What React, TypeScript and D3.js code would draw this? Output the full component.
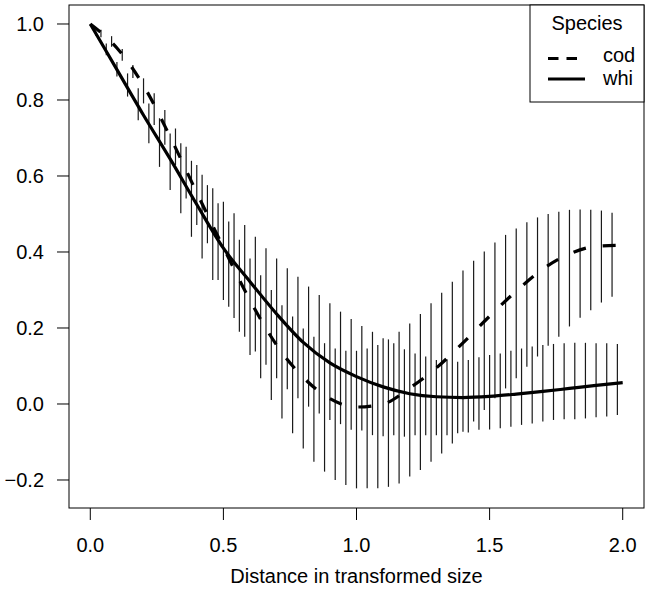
import React from "react";
import * as d3 from "d3";

const lineX = [0.0, 0.1, 0.2, 0.3, 0.4, 0.5, 0.6, 0.7, 0.8, 0.9, 1.0, 1.1, 1.2, 1.3, 1.4, 1.5, 1.6, 1.7, 1.8, 1.9, 2.0];
const codLine = [1.0, 0.937, 0.838, 0.703, 0.556, 0.412, 0.273, 0.155, 0.07, 0.014, -0.008, 0.0, 0.042, 0.095, 0.161, 0.231, 0.297, 0.355, 0.395, 0.415, 0.418];
const whiLine = [1.0, 0.88, 0.76, 0.645, 0.525, 0.41, 0.322, 0.237, 0.162, 0.108, 0.072, 0.045, 0.027, 0.019, 0.017, 0.02, 0.026, 0.033, 0.041, 0.049, 0.056];

const codBarX = [0.0, 0.04, 0.08, 0.12, 0.16, 0.2, 0.24, 0.28, 0.32, 0.36, 0.4, 0.44, 0.48, 0.52, 0.56, 0.6, 0.64, 0.68, 0.72, 0.76, 0.8, 0.84, 0.88, 0.92, 0.96, 1.0, 1.04, 1.08, 1.12, 1.16, 1.2, 1.24, 1.28, 1.32, 1.36, 1.4, 1.44, 1.48, 1.52, 1.56, 1.6, 1.64, 1.68, 1.72, 1.76, 1.8, 1.84, 1.88, 1.92, 1.96];
const codLo = [1.0, 0.965, 0.94, 0.903, 0.858, 0.791, 0.734, 0.682, 0.629, 0.541, 0.471, 0.423, 0.326, 0.256, 0.19, 0.129, 0.068, 0.0105, -0.038, -0.077, -0.117, -0.152, -0.178, -0.2, -0.213, -0.222, -0.222, -0.222, -0.218, -0.209, -0.191, -0.174, -0.152, -0.13, -0.104, -0.073, -0.046, -0.016, 0.015, 0.041, 0.068, 0.098, 0.125, 0.153, 0.177, 0.204, 0.227, 0.247, 0.267, 0.282];
const codHi = [1.0, 0.985, 0.968, 0.934, 0.892, 0.857, 0.818, 0.774, 0.725, 0.677, 0.629, 0.576, 0.528, 0.48, 0.432, 0.383, 0.339, 0.3, 0.26, 0.23, 0.199, 0.177, 0.16, 0.146, 0.14, 0.14, 0.146, 0.155, 0.17, 0.19, 0.212, 0.237, 0.265, 0.293, 0.322, 0.351, 0.377, 0.401, 0.425, 0.445, 0.462, 0.478, 0.491, 0.5, 0.506, 0.511, 0.512, 0.511, 0.509, 0.503];

const whiBarX = [0.02, 0.06, 0.1, 0.14, 0.18, 0.22, 0.26, 0.3, 0.34, 0.38, 0.42, 0.46, 0.5, 0.54, 0.58, 0.62, 0.66, 0.7, 0.74, 0.78, 0.82, 0.86, 0.9, 0.94, 0.98, 1.02, 1.06, 1.1, 1.14, 1.18, 1.22, 1.26, 1.3, 1.34, 1.38, 1.42, 1.46, 1.5, 1.54, 1.58, 1.62, 1.66, 1.7, 1.74, 1.78, 1.82, 1.86, 1.9, 1.94, 1.98];
const whiLo = [0.97, 0.918, 0.862, 0.809, 0.747, 0.686, 0.624, 0.563, 0.502, 0.44, 0.383, 0.326, 0.274, 0.226, 0.177, 0.138, 0.103, 0.068, 0.039, 0.015, -0.007, -0.025, -0.042, -0.053, -0.068, -0.07, -0.082, -0.085, -0.082, -0.086, -0.082, -0.082, -0.082, -0.082, -0.077, -0.075, -0.068, -0.067, -0.064, -0.06, -0.055, -0.051, -0.046, -0.042, -0.04, -0.04, -0.038, -0.035, -0.033, -0.029];
const whiHi = [0.982, 0.949, 0.9, 0.87, 0.831, 0.791, 0.752, 0.712, 0.686, 0.64, 0.603, 0.568, 0.532, 0.502, 0.471, 0.44, 0.41, 0.383, 0.357, 0.335, 0.309, 0.287, 0.265, 0.243, 0.224, 0.205, 0.19, 0.173, 0.16, 0.144, 0.133, 0.125, 0.116, 0.118, 0.111, 0.116, 0.123, 0.129, 0.133, 0.14, 0.146, 0.151, 0.155, 0.158, 0.16, 0.161, 0.161, 0.16, 0.16, 0.158];

const xTicks = [0.0, 0.5, 1.0, 1.5, 2.0];
const yTicks = [-0.2, 0.0, 0.2, 0.4, 0.6, 0.8, 1.0];
const xTitle = "Distance in transformed size";
const legendTitle = "Species";
const speciesNames = ["cod", "whi"];

const W = 650;
const H = 589;
const L = 69, R = 644, T = 5, B = 508;
const FONT = "'Liberation Sans', Arial, Helvetica, sans-serif";
const FS = 20;

export default function App() {
  const x = d3.scaleLinear().domain([-0.08, 2.08]).range([L, R]);
  const y = d3.scaleLinear().domain([-0.2737, 1.05]).range([B, T]);
  const line = d3
    .line<number>()
    .x((_, i) => x(lineX[i]))
    .y((d) => y(d))
    .curve(d3.curveMonotoneX);
  const fmt = d3.format(".1f");
  const fmtY = (v: number) => fmt(v).replace("-", "\u2212");

  return (
    <svg
      width={W}
      height={H}
      style={{ position: "absolute", left: 0, top: 0, background: "#fff" }}
      fontFamily={FONT}
    >
      <rect x={0} y={0} width={W} height={H} fill="#fff" />
      {/* error bars */}
      <g stroke="#1a1a1a" strokeWidth={1.2}>
        {codBarX.map((bx, i) => (
          <line key={"c" + i} x1={x(bx)} x2={x(bx)} y1={y(codLo[i])} y2={y(codHi[i])} />
        ))}
        {whiBarX.map((bx, i) => (
          <line key={"w" + i} x1={x(bx)} x2={x(bx)} y1={y(whiLo[i])} y2={y(whiHi[i])} />
        ))}
      </g>
      {/* lines */}
      <path d={line(codLine) || ""} fill="none" stroke="#000" strokeWidth={3.2} strokeDasharray="13,17" />
      <path d={line(whiLine) || ""} fill="none" stroke="#000" strokeWidth={3.2} />
      {/* box */}
      <rect x={L} y={T} width={R - L} height={B - T} fill="none" stroke="#000" strokeWidth={1} />
      {/* x axis */}
      {xTicks.map((t) => (
        <g key={"xt" + t}>
          <line x1={x(t)} x2={x(t)} y1={B} y2={B + 12} stroke="#000" />
          <text x={x(t)} y={552} textAnchor="middle" fontSize={FS}>
            {fmt(t)}
          </text>
        </g>
      ))}
      <text x={(L + R) / 2} y={583} textAnchor="middle" fontSize={FS}>
        {xTitle}
      </text>
      {/* y axis */}
      {yTicks.map((t) => (
        <g key={"yt" + t}>
          <line x1={L - 12} x2={L} y1={y(t)} y2={y(t)} stroke="#000" />
          <text x={44} y={y(t)} dy="0.35em" textAnchor="end" fontSize={FS}>
            {fmtY(t)}
          </text>
        </g>
      ))}
      {/* legend */}
      <rect x={530} y={T} width={R - 530} height={97} fill="#fff" stroke="#000" strokeWidth={1} />
      <text x={587} y={29.5} textAnchor="middle" fontSize={FS}>
        {legendTitle}
      </text>
      <line x1={548} x2={585} y1={58.5} y2={58.5} stroke="#000" strokeWidth={3.2} strokeDasharray="10.5,8" />
      <line x1={548} x2={585} y1={79} y2={79} stroke="#000" strokeWidth={3.2} />
      <text x={603} y={62} fontSize={FS}>
        {speciesNames[0]}
      </text>
      <text x={603} y={85} fontSize={FS}>
        {speciesNames[1]}
      </text>
    </svg>
  );
}
